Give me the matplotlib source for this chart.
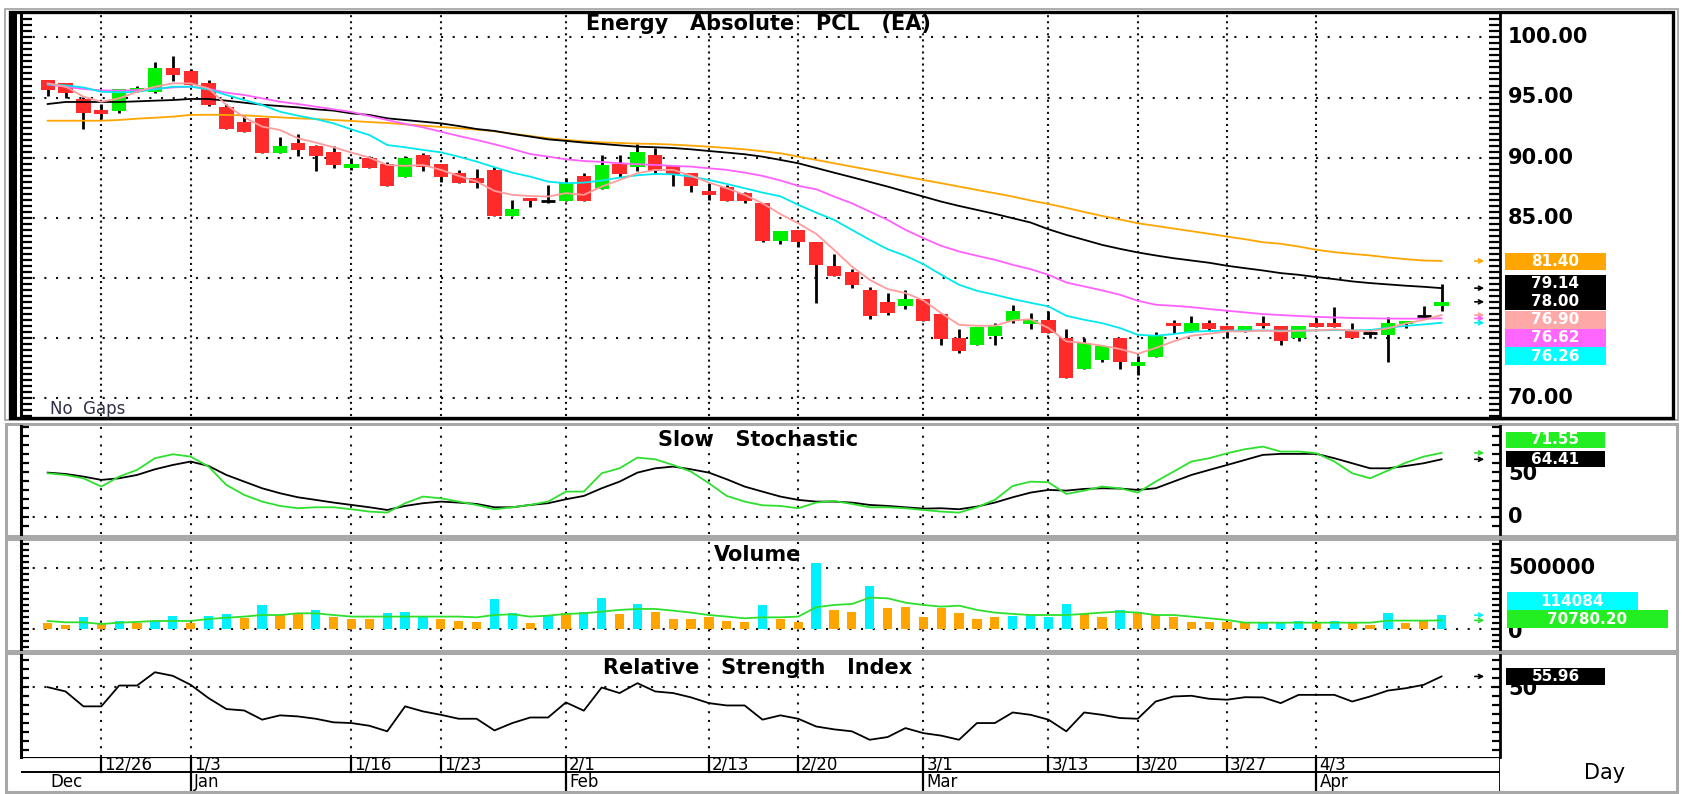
import matplotlib
matplotlib.use("Agg")
import matplotlib.pyplot as plt
import matplotlib.transforms as mtrans
from matplotlib.patches import Rectangle, FancyArrowPatch
from matplotlib.ticker import MultipleLocator

plt.rcParams["font.family"] = ["DejaVu Sans"]

# ---- data --------------------------------------------------------------
opn = [96.45, 96.25, 94.9, 93.95, 93.9, 95.6, 95.43, 97.48, 97.23, 96.23,
       94.24, 92.99, 93.27, 90.42, 91.25, 91.0, 90.5, 89.17, 89.94, 89.47,
       88.42, 90.22, 89.47, 88.75, 88.28, 88.97, 85.15, 86.62, 86.4, 86.43,
       88.5, 87.4, 89.47, 89.2, 90.22, 89.31, 88.75, 87.23, 87.53, 87.03,
       86.26, 83.04, 84.0, 82.96, 81.0, 80.47, 79.0, 77.98, 77.67, 78.23,
       77.0, 74.99, 74.43, 75.18, 76.43, 76.18, 76.51, 74.99, 72.41, 73.19,
       74.99, 72.69, 73.4, 76.23, 75.48, 76.23, 76.01, 75.68, 76.23, 76.01,
       74.99, 76.23, 76.23, 75.68, 75.4, 75.26, 76.18, 76.8, 77.67]
high = [96.45, 96.25, 95.05, 94.5, 95.7, 96.0, 97.98, 98.45, 97.4, 96.45,
        94.46, 93.46, 93.27, 91.75, 91.94, 91.05, 90.97, 89.94, 90.17, 89.67,
        90.17, 90.42, 89.47, 88.97, 89.03, 89.2, 86.48, 86.62, 87.73, 88.28,
        88.7, 90.2, 90.2, 91.11, 90.78, 89.31, 88.75, 87.87, 87.73, 87.17,
        86.26, 83.88, 84.0, 82.96, 81.97, 80.72, 79.22, 78.73, 78.95, 78.23,
        77.0, 75.73, 75.87, 76.23, 77.76, 77.06, 77.2, 75.73, 74.99, 74.29,
        74.99, 73.46, 75.46, 76.51, 76.79, 76.51, 76.01, 76.01, 76.79, 76.01,
        76.01, 76.65, 77.54, 76.23, 75.71, 76.73, 76.37, 77.65, 79.47]
low = [95.15, 94.93, 92.4, 93.25, 93.7, 95.5, 95.35, 96.37, 96.04, 94.3,
       92.38, 92.16, 90.42, 90.42, 90.14, 88.9, 89.17, 88.97, 89.17, 87.65,
       88.42, 88.92, 88.0, 87.87, 87.48, 85.15, 85.15, 85.93, 86.2, 86.43,
       86.4, 87.4, 88.42, 88.92, 88.64, 87.65, 87.17, 86.48, 86.4, 86.2,
       82.94, 82.82, 82.6, 77.9, 80.11, 79.14, 76.6, 76.87, 77.4, 76.43,
       74.43, 73.74, 74.43, 74.43, 76.23, 75.73, 75.4, 71.66, 72.41, 72.96,
       72.41, 71.94, 73.4, 75.4, 75.48, 75.54, 74.99, 75.46, 75.82, 74.43,
       74.71, 75.9, 75.9, 74.99, 74.99, 72.96, 75.82, 76.59, 77.2]
close = [95.62, 95.4, 93.7, 93.6, 95.7, 95.8, 97.48, 96.9, 96.04, 94.38,
         92.38, 92.16, 90.42, 90.97, 90.64, 90.14, 89.4, 89.47, 89.17, 87.65,
         90.0, 89.25, 88.42, 87.87, 87.92, 85.15, 85.73, 86.37, 86.4, 87.92,
         86.4, 89.39, 88.64, 90.5, 88.89, 88.64, 87.67, 86.9, 86.4, 86.4,
         83.1, 83.88, 82.94, 81.08, 80.11, 79.42, 76.84, 77.06, 78.23, 76.43,
         74.9, 73.88, 75.87, 76.01, 77.26, 76.45, 75.4, 71.66, 74.57, 74.29,
         72.96, 72.99, 75.18, 75.96, 76.23, 75.73, 75.54, 76.01, 75.96, 74.71,
         76.01, 75.9, 75.9, 74.99, 75.4, 76.23, 76.37, 76.8, 78.0]

ma_pink = [96.18, 95.90, 95.07, 94.65, 94.93, 95.48, 95.90, 96.18, 96.18, 95.76,
           94.38, 93.35, 92.58, 92.30, 91.61, 91.25, 90.86, 90.42, 90.00, 89.39,
           89.31, 89.39, 88.98, 88.48, 88.01, 87.23, 86.90, 86.80, 86.76, 87.04,
           86.90, 87.59, 88.14, 88.70, 88.98, 88.98, 88.50, 87.92, 87.45, 86.90,
           86.20, 85.30, 84.54, 83.66, 82.33, 80.94, 79.83, 79.06, 78.73, 78.12,
           77.06, 76.09, 76.01, 76.01, 76.45, 76.55, 75.82, 74.71, 74.57, 74.35,
           74.07, 73.68, 74.16, 74.71, 75.18, 75.35, 75.54, 75.54, 75.60, 75.54,
           75.60, 75.62, 75.70, 75.62, 75.55, 75.80, 76.20, 76.50, 76.90]
ma_cyan = [96.09, 96.01, 95.84, 95.48, 95.43, 95.48, 95.68, 95.90, 95.90, 95.68,
           95.21, 94.79, 94.38, 93.82, 93.49, 93.21, 92.85, 92.35, 91.88, 91.05,
           90.86, 90.64, 90.44, 90.08, 89.67, 89.20, 88.75, 88.42, 88.00, 87.87,
           87.92, 88.09, 88.34, 88.53, 88.64, 88.61, 88.42, 88.14, 87.81, 87.45,
           87.09, 86.78, 86.07, 85.43, 84.82, 83.99, 83.16, 82.38, 81.83, 81.14,
           80.25, 79.42, 78.92, 78.59, 78.23, 77.92, 77.62, 76.84, 76.51, 76.23,
           75.82, 75.26, 75.18, 75.32, 75.51, 75.57, 75.60, 75.62, 75.62, 75.60,
           75.60, 75.62, 75.65, 75.62, 75.65, 75.85, 76.00, 76.12, 76.26]
ma_magenta = [96.09, 95.90, 95.71, 95.60, 95.57, 95.62, 95.73, 95.84, 95.90, 95.73,
              95.40, 95.21, 94.93, 94.65, 94.46, 94.24, 94.02, 93.80, 93.46, 93.13,
              92.80, 92.52, 92.16, 91.80, 91.47, 91.11, 90.72, 90.30, 90.08, 89.86,
              89.72, 89.64, 89.53, 89.45, 89.39, 89.31, 89.25, 89.11, 88.98, 88.75,
              88.48, 88.10, 87.65, 87.37, 86.76, 86.20, 85.51, 84.82, 83.99, 83.30,
              82.66, 82.19, 81.83, 81.50, 81.08, 80.72, 80.25, 79.61, 79.28, 78.95,
              78.59, 78.09, 77.76, 77.67, 77.56, 77.40, 77.26, 77.12, 76.98, 76.90,
              76.82, 76.75, 76.70, 76.66, 76.63, 76.61, 76.60, 76.60, 76.62]
ma_black = [94.46, 94.63, 94.63, 94.63, 94.63, 94.68, 94.74, 94.79, 94.88, 94.88,
            94.74, 94.57, 94.40, 94.29, 94.18, 94.02, 93.91, 93.68, 93.55, 93.27,
            93.13, 92.99, 92.85, 92.63, 92.38, 92.22, 91.97, 91.75, 91.52, 91.39,
            91.25, 91.14, 91.02, 90.91, 90.86, 90.80, 90.69, 90.55, 90.42, 90.28,
            90.08, 89.81, 89.53, 89.14, 88.75, 88.37, 87.98, 87.59, 87.17, 86.76,
            86.34, 85.98, 85.65, 85.32, 84.96, 84.60, 84.04, 83.57, 83.16, 82.74,
            82.41, 82.11, 81.86, 81.63, 81.44, 81.25, 81.00, 80.80, 80.61, 80.39,
            80.25, 80.06, 79.89, 79.70, 79.56, 79.45, 79.34, 79.25, 79.14]
ma_orange = [93.07, 93.07, 93.07, 93.07, 93.13, 93.24, 93.32, 93.41, 93.55, 93.57,
             93.55, 93.52, 93.43, 93.35, 93.27, 93.21, 93.13, 93.05, 92.96, 92.88,
             92.77, 92.66, 92.55, 92.44, 92.33, 92.19, 91.99, 91.80, 91.61, 91.47,
             91.36, 91.27, 91.22, 91.16, 91.14, 91.08, 91.00, 90.91, 90.80, 90.69,
             90.53, 90.36, 90.08, 89.81, 89.53, 89.25, 88.98, 88.70, 88.42, 88.14,
             87.87, 87.59, 87.31, 87.04, 86.76, 86.43, 86.15, 85.82, 85.48, 85.15,
             84.85, 84.54, 84.32, 84.10, 83.88, 83.66, 83.43, 83.21, 82.96, 82.83,
             82.60, 82.33, 82.13, 81.99, 81.86, 81.69, 81.55, 81.44, 81.40]

stoch_k = [48.9, 47.0, 43.3, 34.1, 45.2, 52.6, 65.6, 70.0, 67.4, 56.3,
           35.9, 24.8, 17.4, 12.6, 10.0, 11.1, 11.1, 8.9, 6.3, 5.2,
           15.6, 23.0, 21.1, 17.4, 13.7, 8.9, 11.1, 13.7, 17.4, 28.5,
           28.5, 48.9, 54.4, 66.3, 64.4, 58.1, 50.7, 37.8, 23.7, 17.4,
           13.3, 12.6, 10.0, 16.3, 18.1, 14.8, 11.1, 11.1, 10.0, 8.1,
           6.3, 5.2, 11.1, 19.3, 34.8, 39.6, 38.9, 25.9, 29.6, 34.1,
           32.2, 27.4, 39.6, 50.7, 61.9, 65.6, 71.1, 75.6, 78.5, 73.0,
           73.0, 71.1, 61.9, 48.9, 43.3, 51.9, 60.7, 67.4, 71.55]
stoch_d = [49.6, 48.1, 45.2, 41.5, 43.3, 47.0, 53.3, 58.1, 61.9, 57.0,
           47.0, 39.6, 32.2, 26.7, 22.2, 19.3, 16.3, 13.7, 11.1, 8.1,
           12.6, 15.6, 17.4, 16.3, 14.8, 11.1, 11.1, 13.7, 15.6, 20.0,
           23.7, 32.2, 39.6, 49.6, 54.4, 56.3, 53.3, 49.6, 42.2, 34.1,
           28.5, 23.0, 19.3, 17.4, 17.4, 16.3, 13.7, 12.6, 11.1, 9.6,
           10.0, 8.9, 11.9, 16.3, 22.2, 27.4, 30.4, 29.6, 31.5, 32.2,
           31.9, 30.4, 32.2, 39.6, 47.0, 52.6, 58.1, 63.7, 69.3, 70.4,
           70.4, 70.4, 65.6, 60.0, 54.4, 54.4, 57.0, 60.0, 64.41]

volume = [46700, 33000, 96000, 41000, 69000, 52000, 63000, 107000, 52000, 107000,
          121000, 88000, 195000, 113000, 124000, 157000, 96000, 82000, 82000, 132000,
          143000, 102000, 82000, 69000, 60000, 245000, 135000, 47000, 115000, 129000,
          143000, 255000, 124000, 206000, 143000, 82000, 82000, 102000, 69000, 60000,
          195000, 85000, 60000, 541000, 157000, 143000, 354000, 170000, 184000, 96000,
          170000, 135000, 82000, 96000, 107000, 115000, 102000, 206000, 124000, 96000,
          157000, 137000, 115000, 96000, 60000, 60000, 60000, 47000, 60000, 52000,
          69000, 52000, 69000, 52000, 33000, 135000, 52000, 69000, 114084]
# c = cyan bar, o = orange bar
vol_kind = ("oocococcoc cocoocoooc ccoooccoco ccocoooooo coocoocooo "
            "ooooccccoo cooooooocc cocoocooc").replace(" ", "")
vol_ma = [66000, 55000, 55000, 41000, 52000, 58000, 66000, 66000, 66000, 82000,
          93000, 102000, 115000, 115000, 129000, 129000, 115000, 102000, 102000, 102000,
          102000, 102000, 102000, 102000, 96000, 115000, 121000, 102000, 110000, 124000,
          129000, 143000, 157000, 165000, 165000, 151000, 135000, 115000, 102000, 88000,
          96000, 96000, 102000, 179000, 198000, 206000, 258000, 253000, 217000, 198000,
          184000, 192000, 157000, 135000, 124000, 115000, 115000, 115000, 124000, 135000,
          143000, 135000, 115000, 115000, 102000, 88000, 74000, 52000, 52000, 52000,
          52000, 52000, 52000, 52000, 52000, 69000, 69000, 69000, 70780.20]

rsi = [50.0, 47.6, 39.3, 39.3, 50.9, 50.9, 58.3, 56.3, 51.3, 43.9,
       37.8, 37.0, 31.9, 34.3, 33.7, 32.4, 30.4, 30.0, 28.5, 25.4,
       39.3, 36.5, 34.6, 32.4, 32.4, 25.9, 30.0, 33.1, 33.1, 41.5,
       36.9, 49.8, 46.7, 52.2, 47.6, 46.7, 44.3, 41.1, 39.8, 39.8,
       31.9, 34.3, 32.4, 28.1, 26.5, 25.4, 20.7, 22.2, 27.2, 24.4,
       23.0, 20.7, 30.0, 30.0, 35.9, 34.6, 31.9, 25.4, 35.9, 34.6,
       32.8, 32.4, 42.0, 44.8, 45.2, 43.5, 43.0, 44.4, 44.3, 41.1,
       45.7, 45.7, 45.7, 42.0, 44.8, 48.1, 49.4, 51.3, 55.96]

tick_idx = [3, 8, 17, 22, 29, 37, 42, 49, 56, 61, 66, 71]
tick_lbl = ["12/26", "1/3", "1/16", "1/23", "2/1", "2/13", "2/20", "3/1", "3/13", "3/20", "3/27", "4/3"]
month_idx = [0, 8, 29, 49, 71]
month_lbl = ["Dec", "Jan", "Feb", "Mar", "Apr"]
price_grid = [100, 95, 90, 85, 80, 75, 70]
price_lbls = [100, 95, 90, 85, 70]      # 80 / 75 sit under the value boxes

# ---- layout helpers (figure pixels) ------------------------------------
W, H = 1683, 794
fig = plt.figure(figsize=(W / 100, H / 100), dpi=100)
fig.patch.set_facecolor("white")
X0, X1 = 21, 1500
XLIM = (-1.494, 81.27)
N = len(close)
xs = list(range(N))
TX = 758   # centre of panel titles

C_PINK, C_CYAN, C_MAG, C_ORG = "#FF9C9C", "#00E8F0", "#FF60FF", "#FFA500"
C_RED, C_GRN, C_VCYAN, C_SGRN = "#FF2A2A", "#00F000", "#00F0FF", "#2EE02E"

def px_axes(y0, y1):
    return fig.add_axes([X0 / W, 1 - y1 / H, (X1 - X0) / W, (y1 - y0) / H])

def frame(x0, y0, x1, y1, color, lw):
    fig.add_artist(Rectangle((x0 / W, 1 - y1 / H), (x1 - x0) / W, (y1 - y0) / H,
                             transform=fig.transFigure, fill=False, ec=color, lw=lw, zorder=0))

def box(x0, x1, y0, y1, color, txt):
    fig.add_artist(Rectangle((x0 / W, 1 - y1 / H), (x1 - x0) / W, (y1 - y0) / H,
                             transform=fig.transFigure, fc=color, ec="none", zorder=5))
    fig.text((x0 + x1) / 2 / W, 1 - (y0 + y1) / 2 / H, txt, color="white", fontsize=11,
             fontweight="bold", ha="center", va="center", zorder=6)

def axis_label(y, txt):
    fig.text(1508 / W, 1 - y / H, txt, fontsize=15, fontweight="bold", ha="left", va="center", zorder=3)

def title(y, txt):
    fig.text(TX / W, 1 - y / H, txt, fontsize=15, fontweight="bold", ha="center", va="center", zorder=3)

def style(ax, step, tlen, vdash):
    ax.set_xlim(*XLIM)
    for s in ("top", "bottom"):
        ax.spines[s].set_visible(False)
    ax.spines["left"].set_linewidth(2.2)
    ax.spines["right"].set_linewidth(2.0)
    ax.yaxis.set_major_locator(MultipleLocator(step))
    ax.tick_params(axis="y", which="both", direction="in", left=True, right=True,
                   labelleft=False, labelright=False, length=tlen, width=1.6)
    ax.tick_params(axis="x", bottom=False, labelbottom=False)
    ax.patch.set_alpha(0)
    for i in tick_idx:
        ax.axvline(i, color="#111111", lw=1.5, ls=(0, vdash), zorder=0.5)

def hgrid(ax, v):
    ax.axhline(v, color="#111111", lw=1.5, ls=(0, (1, 4.6)), zorder=0.5)

def arrow(ax, y, color):
    # small pointer from the last value towards its value box
    tr = mtrans.blended_transform_factory(fig.transFigure, ax.transData)
    fig.add_artist(FancyArrowPatch((1472 / W, y), (1487 / W, y), transform=tr,
                                   arrowstyle="->", mutation_scale=7, color=color, lw=1.2))

# ---- frames ------------------------------------------------------------
frame(5, 9, 1678, 420, "#A0A0A0", 1.2)
frame(10, 12, 1673, 418, "black", 2.4)
fig.add_artist(Rectangle((9 / W, 1 - 418 / H), 8 / W, 406 / H, transform=fig.transFigure,
                         fc="black", ec="none"))
frame(6, 424, 1677, 536, "#A8A8A8", 2.2)
frame(6, 539, 1677, 651, "#A8A8A8", 2.2)
frame(6, 653, 1677, 792, "#A8A8A8", 2.2)

# ---- price panel -------------------------------------------------------
ax = px_axes(14, 416)
ax.set_ylim(68.5, 101.95)
style(ax, 0.5, 8, (1, 1.9))
for v in price_grid:
    hgrid(ax, v)
ax.vlines(xs, low, high, color="black", lw=2.0, zorder=2)
for i in range(N):
    o, c = opn[i], close[i]
    if abs(c - o) < 0.02:
        ax.hlines(c, i - 0.4, i + 0.4, color="black", lw=2.0, zorder=3)
        continue
    col = C_GRN if c > o else C_RED
    ax.bar(i, max(abs(c - o), 0.15), bottom=min(o, c), width=0.8, color=col, lw=0, zorder=3)
ax.plot(xs, ma_orange, color=C_ORG, lw=1.3, zorder=4)
ax.plot(xs, ma_black, color="black", lw=1.3, zorder=4)
ax.plot(xs, ma_magenta, color=C_MAG, lw=1.3, zorder=4)
ax.plot(xs, ma_cyan, color=C_CYAN, lw=1.3, zorder=4)
ax.plot(xs, ma_pink, color=C_PINK, lw=1.3, zorder=4)
title(24, "Energy   Absolute   PCL   (EA)")
fig.text(50 / W, 1 - 409 / H, "No  Gaps", fontsize=12, color="#303048", ha="left", va="center")
for v in price_lbls:
    axis_label(37.3 + (100 - v) * 12.03, f"{v:.2f}")
for y, col in [(ma_orange[-1], C_ORG), (ma_black[-1], "black"), (close[-1], "black"),
               (ma_pink[-1], C_PINK), (ma_magenta[-1], C_MAG), (ma_cyan[-1], C_CYAN)]:
    arrow(ax, y, col)
box(1505, 1606, 253, 270, C_ORG, f"{ma_orange[-1]:.2f}")
box(1505, 1606, 275, 292, "black", f"{ma_black[-1]:.2f}")
box(1505, 1606, 292, 310, "black", f"{close[-1]:.2f}")
box(1505, 1606, 311, 328.5, "#FFA8A8", f"{ma_pink[-1]:.2f}")
box(1505, 1606, 329, 347, "#FF66FF", f"{ma_magenta[-1]:.2f}")
box(1505, 1606, 347, 365, "#00FFFF", f"{ma_cyan[-1]:.2f}")

# ---- slow stochastic ---------------------------------------------------
ax_s = px_axes(426, 534)
ax_s.set_ylim(-18.6, 101.4)
style(ax_s, 10, 6, (1, 3.2))
hgrid(ax_s, 0)
ax_s.plot(xs, stoch_d, color="black", lw=1.3, zorder=3)
ax_s.plot(xs, stoch_k, color=C_SGRN, lw=1.3, zorder=3)
title(440, "Slow   Stochastic")
axis_label(474, "50")
axis_label(517.3, "0")
arrow(ax_s, stoch_k[-1], C_SGRN)
arrow(ax_s, stoch_d[-1], "black")
box(1506, 1605, 432, 448, "#22EE22", f"{stoch_k[-1]:.2f}")
box(1506, 1605, 451, 467, "black", f"{stoch_d[-1]:.2f}")

# ---- volume ------------------------------------------------------------
ax_v = px_axes(541, 649)
ax_v.set_ylim(-165000, 725000)
style(ax_v, 50000, 6, (1, 3.2))
hgrid(ax_v, 0)
hgrid(ax_v, 500000)
vcols = [C_VCYAN if k == "c" else C_ORG for k in vol_kind]
ax_v.bar(xs, volume, width=0.52, color=vcols, lw=0, zorder=2)
ax_v.plot(xs, vol_ma, color=C_SGRN, lw=1.3, zorder=3)
title(555, "Volume")
axis_label(568.3, "500000")
axis_label(632, "0")
arrow(ax_v, volume[-1], C_VCYAN)
arrow(ax_v, vol_ma[-1], C_SGRN)
box(1507, 1638, 592, 610, "#00FFFF", f"{volume[-1]:d}")
box(1507, 1668, 610, 628, "#22EE22", f"{vol_ma[-1]:.2f}")

# ---- RSI ---------------------------------------------------------------
ax_r = px_axes(655, 757)
ax_r.set_ylim(11.1, 67.9)
style(ax_r, 5, 6, (1, 3.2))
hgrid(ax_r, 50)
ax_r.plot(xs, rsi, color="black", lw=1.3, zorder=3)
title(668, "Relative   Strength   Index")
axis_label(689, "50")
arrow(ax_r, rsi[-1], "black")
box(1506, 1605, 668, 685, "black", f"{rsi[-1]:.2f}")

# ---- date rows ---------------------------------------------------------
ax_d = px_axes(757, 791)
ax_d.set_xlim(*XLIM)
ax_d.set_ylim(0, 1)
ax_d.axis("off")
ax_d.axhline(1, color="black", lw=1.6)
ax_d.axhline(0.55, color="black", lw=1.4)
ax_d.axvline(XLIM[1], color="black", lw=2.0)
txt_tr = (mtrans.blended_transform_factory(ax_d.transData, ax_d.transAxes)
          + mtrans.ScaledTranslation(3 / 100, 0, fig.dpi_scale_trans))
for i, lbl in zip(tick_idx, tick_lbl):
    full = i in month_idx
    ax_d.axvline(i, ymin=0 if full else 0.55, ymax=1, color="black", lw=1.6)
    ax_d.text(i, 0.77, lbl, fontsize=12, ha="left", va="center", transform=txt_tr)
for i, lbl in zip(month_idx, month_lbl):
    ax_d.text(i, 0.26, lbl, fontsize=12, ha="left", va="center", transform=txt_tr)
fig.text(1605 / W, 1 - 773 / H, "Day", fontsize=15, ha="center", va="center")

fig.savefig("out.png", dpi=100, facecolor="white")
